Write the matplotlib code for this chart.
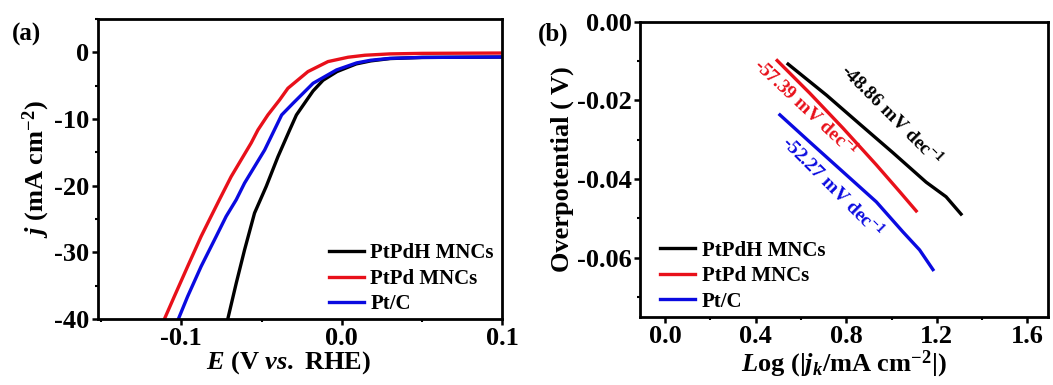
import matplotlib
matplotlib.use("Agg")
import matplotlib.pyplot as plt
from matplotlib.ticker import MultipleLocator, FormatStrFormatter

plt.rcParams['font.family'] = ['Liberation Serif', 'DejaVu Serif']
plt.rcParams['font.weight'] = 'bold'
plt.rcParams['axes.labelweight'] = 'bold'
plt.rcParams['axes.unicode_minus'] = False
plt.rcParams['mathtext.fontset'] = 'custom'
plt.rcParams['mathtext.rm'] = 'Liberation Serif:bold'
plt.rcParams['mathtext.it'] = 'Liberation Serif:italic:bold'
plt.rcParams['mathtext.bf'] = 'Liberation Serif:bold'
plt.rcParams['mathtext.default'] = 'rm'

labels = ['PtPdH MNCs', 'PtPd MNCs', 'Pt/C']
colors = ['#000000', '#e8101a', '#0a0ae0']

# Panel (a): LSV curves, E (V vs RHE) and j (mA cm-2)
E_ptpdh = [-0.0711, -0.0658, -0.0606, -0.0544, -0.0471, -0.0398, -0.0325, -0.0283,
           -0.0211, -0.0179, -0.0117, -0.003, 0.009, 0.018, 0.03, 0.05, 0.1]
j_ptpdh = [-40, -34.6, -29.6, -24.1, -20.1, -15.65, -11.65, -9.4,
           -6.9, -5.8, -4.2, -2.9, -1.75, -1.3, -0.95, -0.78, -0.72]
E_ptpd = [-0.1106, -0.1044, -0.0961, -0.0877, -0.0815, -0.0763, -0.069, -0.0565, -0.0523,
          -0.0461, -0.0388, -0.0336, -0.0211, -0.0086, 0.0039, 0.0144, 0.03, 0.05, 0.1]
j_ptpd = [-40, -36.6, -32.1, -27.6, -24.6, -22.1, -18.65, -13.6, -11.65,
          -9.4, -7.15, -5.4, -2.9, -1.4, -0.75, -0.45, -0.25, -0.17, -0.12]
E_ptc = [-0.1019, -0.0961, -0.0877, -0.0783, -0.0721, -0.0658, -0.0606, -0.0481,
         -0.0375, -0.0304, -0.0179, -0.0033, 0.0092, 0.018, 0.03, 0.05, 0.1]
j_ptc = [-40, -36.6, -32.1, -27.6, -24.6, -22.1, -19.6, -14.65,
         -9.4, -7.65, -4.65, -2.65, -1.6, -1.2, -0.92, -0.78, -0.72]

# Panel (b): Tafel plots, log|jk| and overpotential (V)
logj_ptpdh = [0.543, 0.713, 0.859, 1.006, 1.153, 1.241, 1.307]
eta_ptpdh = [-0.0108, -0.0187, -0.0260, -0.0333, -0.0408, -0.0445, -0.0489]
logj_ptpd = [0.495, 0.639, 0.786, 0.933, 1.036, 1.109]
eta_ptpd = [-0.0099, -0.0182, -0.0271, -0.0364, -0.0432, -0.0481]
logj_ptc = [0.507, 0.639, 0.786, 0.933, 1.05, 1.124, 1.183]
eta_ptc = [-0.0237, -0.0306, -0.0382, -0.0458, -0.0534, -0.0580, -0.0630]

tafel_texts = ['-48.86 mV dec$^{-1}$', '-57.39 mV dec$^{-1}$', '-52.27 mV dec$^{-1}$']

fig = plt.figure(figsize=(10.53, 3.85), dpi=100)
axa = fig.add_axes([0.093, 0.171, 0.384, 0.780])
axb = fig.add_axes([0.608, 0.177, 0.387, 0.767])

lw = 2.4
axa.plot(E_ptpdh, j_ptpdh, color=colors[0], lw=lw, label=labels[0])
axa.plot(E_ptpd, j_ptpd, color=colors[1], lw=lw, label=labels[1])
axa.plot(E_ptc, j_ptc, color=colors[2], lw=lw, label=labels[2])
axa.set_xlim(-0.152, 0.1)
axa.set_ylim(-40, 5)
axa.xaxis.set_major_locator(MultipleLocator(0.1))
axa.xaxis.set_minor_locator(MultipleLocator(0.05))
axa.xaxis.set_major_formatter(FormatStrFormatter('%.1f'))
axa.yaxis.set_major_locator(MultipleLocator(10))
axa.yaxis.set_minor_locator(MultipleLocator(5))
axa.set_xlabel(r'$\mathit{E}$ (V $\mathit{vs.}$ RHE)', fontsize=19, labelpad=0)
axa.xaxis.set_label_coords(0.47, -0.1)
axa.set_ylabel(r'$\mathit{j}$ (mA cm$^{-2}$)', fontsize=19, labelpad=2)
axa.legend(loc='lower right', frameon=False, fontsize=15, handlelength=1.7,
           handletextpad=0.3, labelspacing=0.27, borderaxespad=0.0,
           bbox_to_anchor=(1.0, -0.012))

axb.plot(logj_ptpdh, eta_ptpdh, color=colors[0], lw=lw, label=labels[0])
axb.plot(logj_ptpd, eta_ptpd, color=colors[1], lw=lw, label=labels[1])
axb.plot(logj_ptc, eta_ptc, color=colors[2], lw=lw, label=labels[2])
axb.set_xlim(-0.11, 1.69)
axb.set_ylim(-0.075, 0.0)
axb.xaxis.set_major_locator(MultipleLocator(0.4))
axb.xaxis.set_minor_locator(MultipleLocator(0.2))
axb.xaxis.set_major_formatter(FormatStrFormatter('%.1f'))
axb.yaxis.set_major_locator(MultipleLocator(0.02))
axb.yaxis.set_minor_locator(MultipleLocator(0.01))
axb.yaxis.set_major_formatter(FormatStrFormatter('%.2f'))
axb.set_xlabel(r'$\mathit{L}$og (|$\mathit{j_k}$/mA cm$^{-2}$|)', fontsize=19, labelpad=0)
axb.set_ylabel('Overpotential ( V)', fontsize=19, labelpad=2)
axb.legend(loc='lower left', frameon=False, fontsize=15, handlelength=1.7,
           handletextpad=0.3, labelspacing=0.27, borderaxespad=0.0,
           bbox_to_anchor=(0.028, -0.011))

axb.text(1.0, -0.0238, tafel_texts[0], color=colors[0], fontsize=14,
         rotation=-45, ha='center', va='center', rotation_mode='anchor')
axb.text(0.62, -0.0218, tafel_texts[1], color=colors[1], fontsize=14,
         rotation=-43, ha='center', va='center', rotation_mode='anchor')
axb.text(0.74, -0.0420, tafel_texts[2], color=colors[2], fontsize=14,
         rotation=-45, ha='center', va='center', rotation_mode='anchor')

for ax in (axa, axb):
    for s in ax.spines.values():
        s.set_linewidth(2.0)
    ax.tick_params(axis='both', which='major', direction='out', length=4,
                   width=1.8, labelsize=19, pad=2)
    ax.tick_params(axis='both', which='minor', direction='out', length=2.5,
                   width=1.5)

fig.text(0.011, 0.895, '(a)', fontsize=18, fontweight='bold')
fig.text(0.511, 0.895, '(b)', fontsize=18, fontweight='bold')

fig.savefig('out.png', dpi=100)
